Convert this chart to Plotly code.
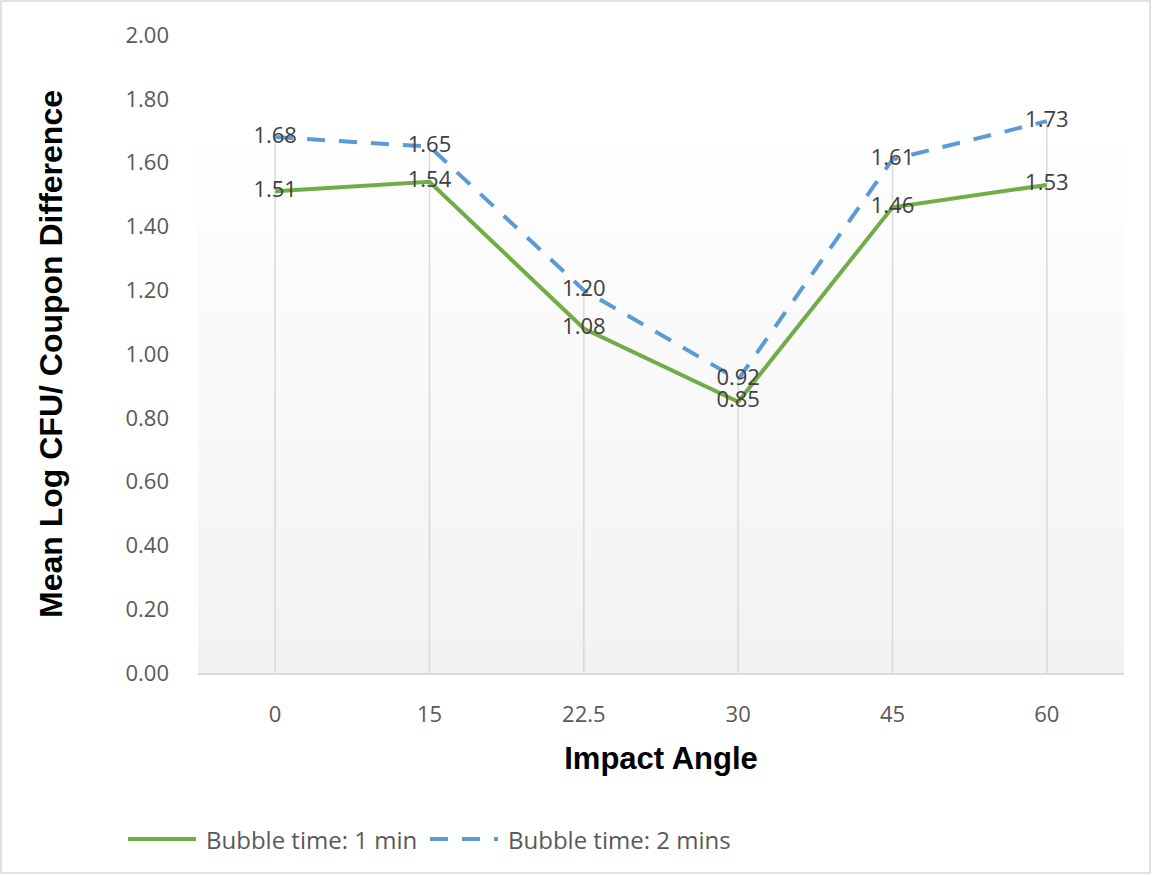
import plotly.graph_objects as go

# Impact angle categories and mean log CFU/coupon differences
angles = ["0", "15", "22.5", "30", "45", "60"]
bubble_1min = [1.51, 1.54, 1.08, 0.85, 1.46, 1.53]
bubble_2min = [1.68, 1.65, 1.20, 0.92, 1.61, 1.73]
y_ticks = [0.0, 0.2, 0.4, 0.6, 0.8, 1.0, 1.2, 1.4, 1.6, 1.8, 2.0]
series_names = ["Bubble time: 1 min", "Bubble time: 2 mins"]

W, H = 1152, 875
L, R, T, B = 198, 28, 35, 202
plot_h = H - T - B
plot_w = W - L - R


def py(ypx):
    """Convert a pixel row to paper y."""
    return (H - B - ypx) / plot_h


def px(xpx):
    """Convert a pixel column to paper x."""
    return (xpx - L) / plot_w


GREEN = "#70ad47"
BLUE = "#5b9bd5"
GRID = "#d9d9d9"
TXT = "#595959"
LABEL_FONT = "Open Sans"
DASH = "18px,14px"

fig = go.Figure()

# drop lines from the highest point of each category to the axis
dx, dy = [], []
for a, v1, v2 in zip(angles, bubble_1min, bubble_2min):
    dx += [a, a, None]
    dy += [max(v1, v2), 0, None]
fig.add_trace(go.Scatter(x=dx, y=dy, mode="lines",
                         line=dict(color=GRID, width=1.5),
                         hoverinfo="skip", showlegend=False))

fig.add_trace(go.Scatter(
    x=angles, y=bubble_1min, name=series_names[0],
    mode="lines+text", text=[f"{v:.2f}" for v in bubble_1min],
    textposition="middle center",
    textfont=dict(family=LABEL_FONT, size=22, color="#404040"),
    line=dict(color=GREEN, width=4), showlegend=False))

fig.add_trace(go.Scatter(
    x=angles, y=bubble_2min, name=series_names[1],
    mode="lines+text", text=[f"{v:.2f}" for v in bubble_2min],
    textposition="middle center",
    textfont=dict(family=LABEL_FONT, size=22, color="#404040"),
    line=dict(color=BLUE, width=4, dash=DASH), showlegend=False))

shapes = []
# vertical gradient fill behind the plot area
n = 60
top, bot = py(117), 0.0
for i in range(n):
    f = i / (n - 1)
    g = round(242 + (255 - 242) * f)
    shapes.append(dict(type="rect", xref="paper", yref="paper",
                       x0=0, x1=1,
                       y0=bot + (top - bot) * i / n,
                       y1=bot + (top - bot) * (i + 1) / n + 0.002,
                       fillcolor=f"rgb({g},{g},{g})", line=dict(width=0),
                       layer="below"))
# chart border
shapes.append(dict(type="rect", xref="paper", yref="paper",
                   x0=px(1), x1=px(1150), y0=py(873), y1=py(1),
                   line=dict(color=GRID, width=1.5), fillcolor="rgba(0,0,0,0)",
                   layer="above"))

# legend row below the axis title
legend_y = py(839)
legend_items = [
    (series_names[0], GREEN, "solid", 128, 196, 204),
    (series_names[1], BLUE, DASH, 430, 498, 506),
]
annotations = []
for name, color, dash, x0, x1, xt in legend_items:
    shapes.append(dict(type="line", xref="paper", yref="paper",
                       x0=px(x0), x1=px(x1), y0=legend_y, y1=legend_y,
                       line=dict(color=color, width=4, dash=dash)))
    annotations.append(dict(text=name, xref="paper", yref="paper",
                            x=px(xt), y=legend_y, xanchor="left",
                            yanchor="middle", showarrow=False,
                            font=dict(family=LABEL_FONT, size=24, color=TXT)))

fig.update_layout(
    width=W, height=H,
    margin=dict(l=L, r=R, t=T, b=B),
    paper_bgcolor="white", plot_bgcolor="rgba(0,0,0,0)",
    shapes=shapes,
    annotations=annotations,
    showlegend=False,
    xaxis=dict(type="category", categoryorder="array", categoryarray=angles,
               range=[-0.5, 5.5], showgrid=False, zeroline=False,
               showline=True, linecolor=GRID, linewidth=1.5,
               tickfont=dict(family=LABEL_FONT, size=22, color=TXT),
               ticklabelstandoff=21,
               title=dict(text="Impact Angle", standoff=20,
                          font=dict(family="Arial", size=31, color="black",
                                    weight="bold"))),
    yaxis=dict(range=[0, 2.0], tickvals=y_ticks,
               ticktext=[f"{v:.2f}" for v in y_ticks],
               showgrid=False, zeroline=False, showline=False,
               tickfont=dict(family=LABEL_FONT, size=22, color=TXT),
               ticklabelstandoff=28,
               title=dict(text="Mean Log CFU/ Coupon Difference", standoff=53,
                          font=dict(family="Arial", size=32, color="black",
                                    weight="bold"))),
)

fig.write_html("out.html")
